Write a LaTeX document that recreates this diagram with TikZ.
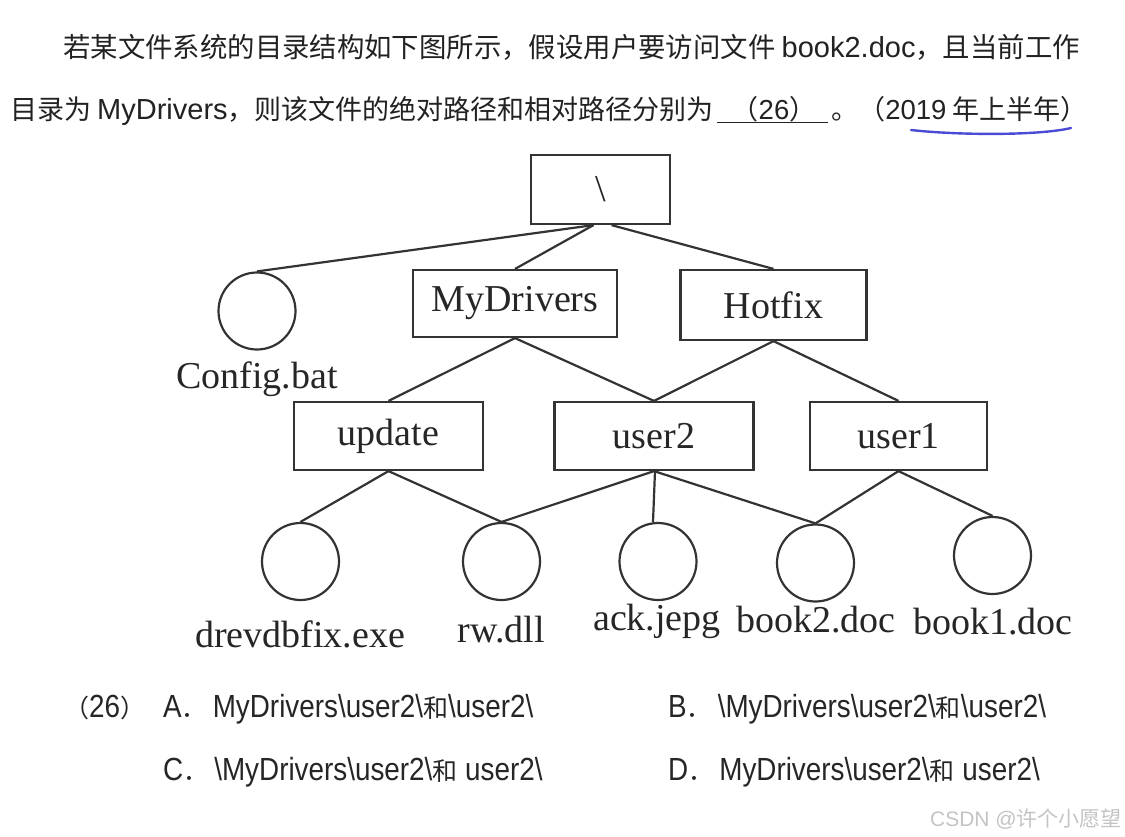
\documentclass[tikz,border=0pt]{standalone}
\usepackage{fontspec}
\setmainfont{Liberation Serif}
\newfontfamily\cjk{Noto Sans CJK SC}
\newfontfamily\lat{Liberation Sans}
\newfontfamily\latn[FakeStretch=0.87]{Liberation Sans}
\definecolor{linec}{HTML}{333333}
\definecolor{txtc}{HTML}{262626}
\definecolor{hdr}{HTML}{222222}
\definecolor{wm}{HTML}{C4C4C4}
\definecolor{pen}{HTML}{4B4BD6}
\newcommand{\ha}{\fontsize{27.4}{30}\selectfont}
\newcommand{\hb}{\fontsize{27}{30}\selectfont}
\newcommand{\hl}{\fontsize{29}{30}\selectfont}
\newcommand{\hn}{\fontsize{27.5}{30}\selectfont}
\newcommand{\oc}{\cjk\fontsize{25}{30}\selectfont}
\newcommand{\ol}{\latn\fontsize{32}{34}\selectfont}
\begin{document}
\begin{tikzpicture}[x=1pt,y=-1pt,
  ln/.style={draw=linec, line width=2.2pt},
  box/.style={draw=linec, line width=2.2pt, rectangle, inner sep=0pt, text=txtc, font=\fontsize{38}{40}\selectfont},
  file/.style={draw=linec, line width=2.2pt, circle, minimum size=77pt, inner sep=0pt},
  fname/.style={anchor=base, inner sep=0pt, text=txtc, font=\fontsize{38}{40}\selectfont},
  hdrtext/.style={anchor=base west, inner sep=0pt, text=hdr},
  opt/.style={anchor=base west, inner sep=0pt, text=txtc}]
\useasboundingbox (0,0) rectangle (1125,836);
\fill[white] (0,0) rectangle (1125,836);

% header
\node[hdrtext] (h1) at (63,57) {\cjk\ha 若某文件系统的目录结构如下图所示，假设用户要访问文件 {\lat\hl book2.doc}，且当前工作};
\node[hdrtext] (h2) at (10,119) {\cjk\hb 目录为 {\lat\hl MyDrivers}，则该文件的绝对路径和相对路径分别为\hspace{18pt}（{\lat\hn 26}）\hspace{15pt}。（{\lat\hn 2019} 年上半年）};
\draw[line width=1.8pt, hdr] (717,122.5) -- (828,122.5);
\draw[line width=2.4pt, pen, line cap=round] (911,130) .. controls (960,135.5) and (1040,135.5) .. (1071,128);

% tree
\node[box, minimum width=139pt, minimum height=69pt] (root) at (600.5,189.5) {\textbackslash};
\node[box, minimum width=204pt, minimum height=67pt] (md) at (515,303.5) {MyDrivers};
\node[box, minimum width=186pt, minimum height=70pt] (hf) at (773.5,305) {Hotfix};
\node[box, minimum width=189pt, minimum height=68pt] (up) at (388.5,436) {update};
\node[box, minimum width=199pt, minimum height=68pt] (u2) at (654,436) {user2};
\node[box, minimum width=177pt, minimum height=68pt] (u1) at (898.5,436) {user1};

\node[file] (cfg) at (257,311) {};
\node[file] (dre) at (300.5,561.5) {};
\node[file] (rw) at (501.5,561.5) {};
\node[file] (ack) at (658,561.5) {};
\node[file] (bk2) at (815.5,563) {};
\node[file] (bk1) at (992.5,555.5) {};

\node[fname] (cfgL) at (257,388) {Config.bat};
\node[fname] (dreL) at (300,647) {drevdbfix.exe};
\node[fname] (rwL) at (501,642) {rw.dll};
\node[fname] (ackL) at (657,630) {ack.jepg};
\node[fname] (bk2L) at (816,632) {book2.doc};
\node[fname] (bk1L) at (993,634) {book1.doc};

\coordinate (rl) at ([xshift=-7pt]root.south);
\coordinate (rr) at ([xshift=11pt]root.south);
\coordinate (u2a) at ([xshift=1pt]u2.south);
\coordinate (acktop) at ([xshift=-5pt]ack.north);
\draw[ln] (rl) -- (cfg.north);
\draw[ln] (rl) -- (md.north);
\draw[ln] (rr) -- (hf.north);
\draw[ln] (md.south) -- (up.north);
\draw[ln] (md.south) -- (u2.north);
\draw[ln] (hf.south) -- (u2.north);
\draw[ln] (hf.south) -- (u1.north);
\draw[ln] (up.south) -- (dre.north);
\draw[ln] (up.south) -- (rw.north);
\draw[ln] (u2.south) -- (rw.north);
\draw[ln] (u2a) -- (acktop);
\draw[ln] (u2.south) -- (bk2.north);
\draw[ln] (u1.south) -- (bk2.north);
\draw[ln] (u1.south) -- (bk1.north);

% options
\node[opt] (q) at (64,717) {\oc （{\ol 26}）};
\node[opt] (oA) at (163,717) {\ol A\oc ．\hspace{6pt}\ol MyDrivers\textbackslash user2\textbackslash\oc 和\ol\textbackslash user2\textbackslash};
\node[opt] (oB) at (668,717) {\ol B\oc ．\hspace{6pt}\ol\textbackslash MyDrivers\textbackslash user2\textbackslash\oc 和\ol\textbackslash user2\textbackslash};
\node[opt] (oC) at (163,780) {\ol C\oc ．\hspace{6pt}\ol\textbackslash MyDrivers\textbackslash user2\textbackslash\oc 和\ol{} user2\textbackslash};
\node[opt] (oD) at (668,780) {\ol D\oc ．\hspace{6pt}\ol MyDrivers\textbackslash user2\textbackslash\oc 和\ol{} user2\textbackslash};

% watermark
\node[anchor=base east, inner sep=0pt, text=wm] (wmk) at (1122,826) {\lat\fontsize{21}{22}\selectfont CSDN @\cjk 许个小愿望};
\end{tikzpicture}
\end{document}
